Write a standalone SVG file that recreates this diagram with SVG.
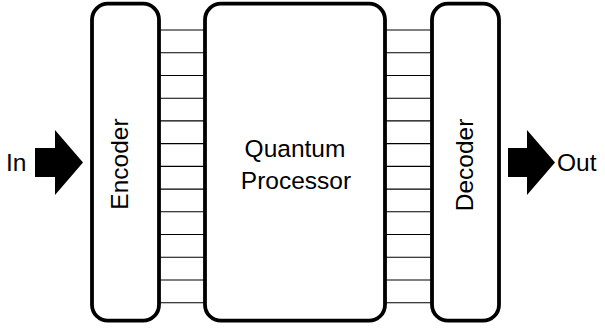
<svg xmlns="http://www.w3.org/2000/svg" width="605" height="329" viewBox="0 0 605 329">
<style>
.box{fill:#fff;stroke:#000;stroke-width:3.8}
.lbl{font-family:"Liberation Sans",Arial,sans-serif;font-size:24.5px;fill:#000}
.wire{stroke:#000;stroke-width:1.1;fill:none}
.arr{fill:#000;stroke:none}
</style>
<rect width="605" height="329" fill="#fff"/>
<g id="connectors">
<path class="wire" d="M159,30H205M159,52.7H205M159,75.5H205M159,98.2H205M159,120.9H205M159,143.6H205M159,166.4H205M159,189.1H205M159,211.8H205M159,234.5H205M159,257.3H205M159,280H205M159,302.7H205"/>
<path class="wire" d="M385,30H432M385,52.7H432M385,75.5H432M385,98.2H432M385,120.9H432M385,143.6H432M385,166.4H432M385,189.1H432M385,211.8H432M385,234.5H432M385,257.3H432M385,280H432M385,302.7H432"/>
</g>
<g id="input">
<text class="lbl" x="6" y="171">In</text>
<polygon class="arr" points="35,148 55,148 55,130 83,162.5 55,195 55,177 35,177"/>
</g>
<g id="encoder">
<rect class="box" x="92" y="3.7" width="67" height="317" rx="16" ry="16"/>
<text class="lbl" transform="translate(128,164) rotate(-90)" text-anchor="middle">Encoder</text>
</g>
<g id="processor">
<rect class="box" x="205" y="3.7" width="180" height="317" rx="16" ry="16"/>
<text class="lbl" x="295" y="157" text-anchor="middle">Quantum</text>
<text class="lbl" x="296" y="189" text-anchor="middle">Processor</text>
</g>
<g id="decoder">
<rect class="box" x="432" y="3.7" width="67" height="317" rx="16" ry="16"/>
<text class="lbl" transform="translate(473,165) rotate(-90)" text-anchor="middle">Decoder</text>
</g>
<g id="output">
<polygon class="arr" points="508,148 527,148 527,130 555,162.5 527,195 527,177 508,177"/>
<text class="lbl" x="557" y="171">Out</text>
</g>
</svg>
